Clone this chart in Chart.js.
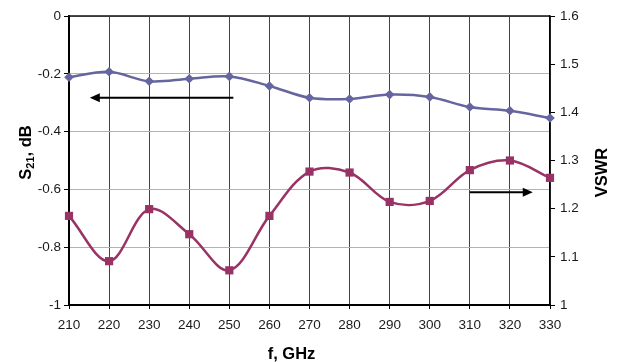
<!DOCTYPE html>
<html><head><meta charset="utf-8">
<script src="https://cdn.jsdelivr.net/npm/chart.js@4/dist/chart.umd.min.js"></script>
<style>html,body{margin:0;padding:0;background:#fff}canvas{display:block}</style>
</head><body>
<canvas id="c" width="618" height="362"></canvas>
<script>
const frequencies = [210, 220, 230, 240, 250, 260, 270, 280, 290, 300, 310, 320, 330];
const s21Values = [-0.212, -0.193, -0.226, -0.217, -0.209, -0.242, -0.283, -0.287, -0.272, -0.280, -0.315, -0.328, -0.353];
const vswrValues = [1.185, 1.091, 1.199, 1.147, 1.072, 1.185, 1.277, 1.275, 1.214, 1.216, 1.280, 1.300, 1.264];
const xTicks = [210, 220, 230, 240, 250, 260, 270, 280, 290, 300, 310, 320, 330];
const s21Ticks = [-1, -0.8, -0.6, -0.4, -0.2, 0];
const vswrTicks = [1, 1.1, 1.2, 1.3, 1.4, 1.5, 1.6];
const xTitle = 'f, GHz';
const s21TitleParts = ['S', '21', ', dB'];
const vswrTitle = 'VSWR';
// annotation arrows in data units
const arrows = [
  { axis: 'y', value: -0.283, from: 251, to: 215.2 },
  { axis: 'y1', value: 1.234, from: 310, to: 325.7 }
];

const FONT = "'Liberation Sans', Arial, sans-serif";
const BLUE = '#65659f';
const MAROON = '#993366';

const setTicks = vals => scale => { scale.ticks = vals.map(v => ({ value: v })); };
const fmt = v => String(+Number(v).toFixed(2));

const decor = {
  id: 'decor',
  afterDatasetsDraw(chart) {
    const ctx = chart.ctx, xs = chart.scales.x;
    ctx.save();
    ctx.strokeStyle = '#000'; ctx.fillStyle = '#000'; ctx.lineWidth = 2;
    arrows.forEach(a => {
      const ys = chart.scales[a.axis];
      const y = ys.getPixelForValue(a.value);
      const x0 = xs.getPixelForValue(a.from), x1 = xs.getPixelForValue(a.to);
      const dir = Math.sign(x1 - x0);
      const hl = 10, hw = 4.5;
      ctx.beginPath(); ctx.moveTo(x0, y); ctx.lineTo(x1 - dir * hl + dir, y); ctx.stroke();
      ctx.beginPath(); ctx.moveTo(x1, y); ctx.lineTo(x1 - dir * hl, y - hw); ctx.lineTo(x1 - dir * hl, y + hw); ctx.closePath(); ctx.fill();
    });
    ctx.restore();
  },
  afterDraw(chart) {
    const ctx = chart.ctx, ca = chart.chartArea;
    ctx.save();
    // top frame
    ctx.strokeStyle = '#111'; ctx.lineWidth = 1.5;
    ctx.beginPath(); ctx.moveTo(ca.left - 1, ca.top); ctx.lineTo(ca.right, ca.top); ctx.stroke();
    ctx.fillStyle = '#000';
    // x title
    ctx.font = `bold 16.5px ${FONT}`;
    ctx.textAlign = 'center'; ctx.textBaseline = 'alphabetic';
    ctx.fillText(xTitle, (ca.left + ca.right) / 2 - 18, 359);
    // left title
    ctx.save();
    ctx.translate(31, (ca.top + ca.bottom) / 2 - 8);
    ctx.rotate(-Math.PI / 2);
    const fB = `bold 16.5px ${FONT}`, fS = `bold 11px ${FONT}`;
    ctx.font = fB; const w0 = ctx.measureText(s21TitleParts[0]).width; const w2 = ctx.measureText(s21TitleParts[2]).width;
    ctx.font = fS; const w1 = ctx.measureText(s21TitleParts[1]).width;
    let x = -(w0 + w1 + w2) / 2;
    ctx.textAlign = 'left';
    ctx.font = fB; ctx.fillText(s21TitleParts[0], x, 0); x += w0;
    ctx.font = fS; ctx.fillText(s21TitleParts[1], x, 3); x += w1;
    ctx.font = fB; ctx.fillText(s21TitleParts[2], x, 0);
    ctx.restore();
    // right title
    ctx.save();
    ctx.translate(607, (ca.top + ca.bottom) / 2 + 12);
    ctx.rotate(-Math.PI / 2);
    ctx.font = `bold 16.5px ${FONT}`; ctx.textAlign = 'center';
    ctx.fillText(vswrTitle, 0, 0);
    ctx.restore();
    ctx.restore();
  }
};

new Chart(document.getElementById('c'), {
  type: 'line',
  data: {
    datasets: [
      {
        label: 'S21',
        data: frequencies.map((f, i) => ({ x: f, y: s21Values[i] })),
        yAxisID: 'y', clip: false,
        borderColor: BLUE, backgroundColor: BLUE,
        borderWidth: 2.5, tension: 0.35,
        pointStyle: 'rectRot', pointRadius: 4.8, pointBorderWidth: 0,
        pointBackgroundColor: BLUE
      },
      {
        label: 'VSWR',
        data: frequencies.map((f, i) => ({ x: f, y: vswrValues[i] })),
        yAxisID: 'y1', clip: false,
        borderColor: MAROON, backgroundColor: MAROON,
        borderWidth: 2.5, tension: 0.35,
        pointStyle: 'rect', pointRadius: 5.8, pointBorderWidth: 0,
        pointBackgroundColor: MAROON
      }
    ]
  },
  options: {
    responsive: false, animation: false,
    layout: { padding: { top: 16, left: 0, right: 0, bottom: 0 } },
    plugins: { legend: { display: false }, tooltip: { enabled: false } },
    scales: {
      x: {
        type: 'linear', min: 210, max: 330,
        afterBuildTicks: setTicks(xTicks),
        afterFit: s => { s.height = 57; },
        grid: { color: '#444', lineWidth: 1, tickLength: 4, tickColor: '#000' },
        border: { color: '#000', width: 2 },
        ticks: { color: '#1a1a1a', padding: 8, maxRotation: 0, autoSkip: false, callback: fmt, font: { family: FONT, size: 13.5 } }
      },
      y: {
        position: 'left', min: -1, max: 0,
        afterBuildTicks: setTicks(s21Ticks),
        afterFit: s => { s.width = 69; },
        grid: { color: '#b3b3b3', lineWidth: 1, tickLength: 5, tickColor: '#000' },
        border: { color: '#000', width: 2 },
        ticks: { color: '#1a1a1a', padding: 3, callback: fmt, font: { family: FONT, size: 13.5 } }
      },
      y1: {
        position: 'right', min: 1, max: 1.6,
        afterBuildTicks: setTicks(vswrTicks),
        afterFit: s => { s.width = 68; },
        grid: { drawOnChartArea: false, tickLength: 5, tickColor: '#000' },
        border: { color: '#000', width: 1.5 },
        ticks: { color: '#1a1a1a', padding: 5, callback: fmt, font: { family: FONT, size: 13.5 } }
      }
    }
  },
  plugins: [decor]
});
</script>
</body></html>
